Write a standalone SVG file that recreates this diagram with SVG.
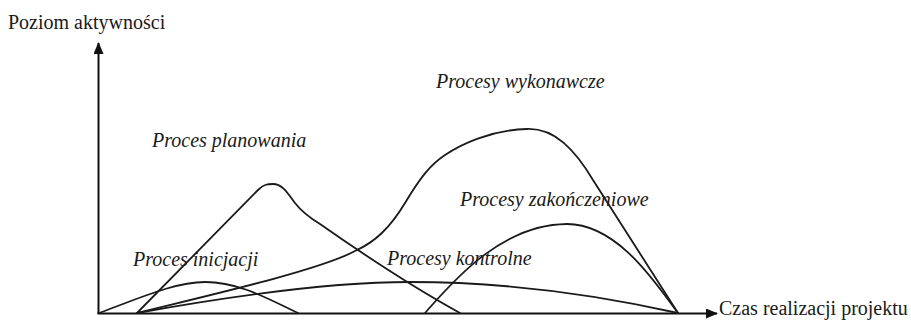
<svg xmlns="http://www.w3.org/2000/svg" width="911" height="328" viewBox="0 0 911 328">
  <style>
    .axis { stroke: #111; stroke-width: 2; fill: none; }
    .curve { stroke: #1a1a1a; stroke-width: 1.8; fill: none; stroke-linejoin: round; stroke-linecap: round; }
    .axis-label { font-family: "Liberation Serif", "Times New Roman", serif; font-size: 20px; fill: #1a1a1a; }
    .phase-label { font-family: "Liberation Serif", "Times New Roman", serif; font-size: 20px; font-style: italic; fill: #1a1a1a; }
  </style>
  <defs>
    <marker id="arrow" viewBox="0 0 12 10" refX="11" refY="5" markerWidth="12" markerHeight="10" markerUnits="userSpaceOnUse" orient="auto">
      <path d="M0,0 L12,5 L0,10 Z" fill="#111"/>
    </marker>
  </defs>
  <rect width="911" height="328" fill="#fff"/>

  <!-- axes -->
  <g id="axes">
    <line class="axis" x1="98.5" y1="314" x2="98.5" y2="43" marker-end="url(#arrow)"/>
    <line class="axis" x1="97.5" y1="313.5" x2="717" y2="313.5" marker-end="url(#arrow)"/>
    <text class="axis-label" x="8" y="29">Poziom aktywności</text>
    <text class="axis-label" x="719" y="315">Czas realizacji projektu</text>
  </g>

  <!-- process activity curves -->
  <g id="curves">
    <path id="curve-inicjacji" class="curve" d="M99,313 C140,298 175,282 205,282 C240,282 270,300 298,313"/>
    <path id="curve-planowania" class="curve" d="M137,313 L258,190 C264,184 268,184 273,184 C282,184 287,192 295,203 C302,212 310,218 320,224 Q400,280 460,313"/>
    <path id="curve-wykonawcze" class="curve" d="M137,313 C210,295 320,270 355,251 C375,242 390,228 405,203 C420,178 430,165 445,155 C460,145 490,130 527,129 C555,128 575,150 593,180 L678,313"/>
    <path id="curve-kontrolne" class="curve" d="M137,313 C220,298 330,282 410,282 C520,282 620,300 678,313"/>
    <path id="curve-zakonczeniowe" class="curve" d="M425,313 C450,285 500,224 567,224 C620,224 660,290 678,313"/>
  </g>

  <!-- phase labels -->
  <g id="labels">
    <text class="phase-label" x="436" y="88">Procesy wykonawcze</text>
    <text class="phase-label" x="152" y="147">Proces planowania</text>
    <text class="phase-label" x="460" y="206">Procesy zakończeniowe</text>
    <text class="phase-label" x="387" y="265">Procesy kontrolne</text>
    <text class="phase-label" x="133" y="266">Proces inicjacji</text>
  </g>
</svg>
